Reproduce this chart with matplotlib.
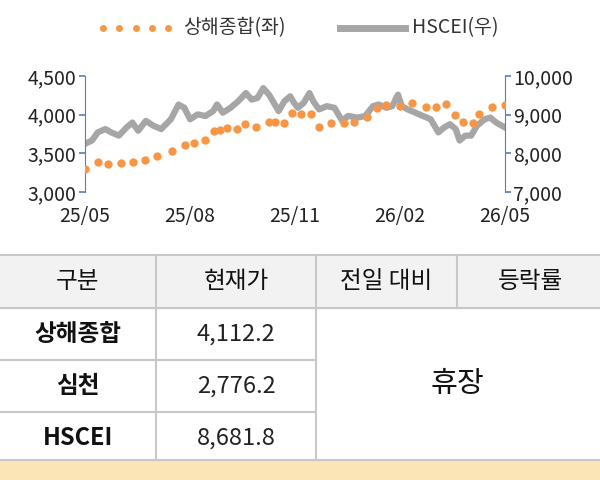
import matplotlib.pyplot as plt
import numpy as np

plt.rcParams['font.family'] = ['Noto Sans CJK KR', 'DejaVu Sans']

# 상해종합 (left axis), x in months since 25/05
sh_x = [0, 0.36, 0.66, 1.04, 1.38, 1.72, 2.07, 2.48, 2.86, 3.11, 3.42, 3.69, 3.85, 4.07, 4.35, 4.56,
        4.88, 5.26, 5.44, 5.68, 5.92, 6.17, 6.47, 6.69, 7.04, 7.40, 7.68, 8.06, 8.34, 8.61, 9.00,
        9.35, 9.73, 10.04, 10.31, 10.56, 10.81, 11.09, 11.25, 11.64, 12.0]
sh_y = [3297, 3390, 3356, 3381, 3390, 3411, 3466, 3530, 3602, 3631, 3674, 3784, 3805, 3822, 3814, 3877,
        3835, 3907, 3911, 3898, 4025, 4004, 4004, 3843, 3890, 3890, 3907, 3975, 4089, 4131, 4110,
        4152, 4101, 4097, 4140, 3996, 3911, 3890, 4004, 4101, 4123]

# HSCEI (right axis)
hs_xz = [222, 240, 255, 275, 290, 310, 330, 345, 360, 380, 400, 420, 445, 465, 480, 495, 515, 535, 555,
         565, 580, 600, 620, 640, 655, 670, 685, 700, 715, 725, 740, 755, 765, 775, 790, 805, 815, 830,
         850, 870, 890, 905, 930, 950, 970, 985, 1005, 1020, 1035, 1045, 1060, 1080, 1100, 1120, 1140,
         1155, 1170, 1185, 1195, 1210, 1225, 1240, 1260, 1275, 1290, 1313]
hs_y = [8246, 8331, 8542, 8627, 8542, 8458, 8670, 8797, 8585, 8839, 8712, 8627, 8881, 9263, 9178, 8881,
        9008, 8966, 9093, 9263, 9051, 9178, 9347, 9559, 9390, 9432, 9686, 9517, 9263, 9093, 9347, 9475,
        9305, 9178, 9305, 9559, 9347, 9136, 9220, 9178, 8839, 8966, 8924, 8966, 9220, 9263, 9178, 9220,
        9517, 9220, 9136, 9051, 8966, 8881, 8542, 8670, 8754, 8627, 8331, 8458, 8458, 8712, 8881, 8924,
        8797, 8670]
hs_x = [(v - 222) / 1091 * 12 for v in hs_xz]

tick_labels = ['25/05', '25/08', '25/11', '26/02', '26/05']
headers = ['구분', '현재가', '전일 대비', '등락률']
names = ['상해종합', '심천', 'HSCEI']
prices = ['4,112.2', '2,776.2', '8,681.8']

W, H = 600, 480
fig = plt.figure(figsize=(6, 4.8), dpi=100)

ax = fig.add_axes([85 / W, 1 - 192 / H, 420 / W, 116 / H])
ax2 = ax.twinx()
ax2.plot(hs_x, hs_y, color='#a6a6a6', lw=4.5, zorder=1)
ax.plot(sh_x, sh_y, 'o', color='#f79646', ms=6, mew=0, zorder=3)
ax.set_zorder(ax2.get_zorder() + 1)
ax.patch.set_visible(False)
ax.set_xlim(0, 12)
ax.set_ylim(3000, 4500)
ax2.set_ylim(7000, 10000)
ax.set_yticks([3000, 3500, 4000, 4500])
ax.set_yticklabels(['3,000', '3,500', '4,000', '4,500'])
ax2.set_yticks([7000, 8000, 9000, 10000])
ax2.set_yticklabels(['7,000', '8,000', '9,000', '10,000'])
ax.set_xticks([0, 3, 6, 9, 12])
ax.set_xticklabels(tick_labels)
for a in (ax, ax2):
    for s in ('top', 'bottom'):
        a.spines[s].set_visible(False)
    a.spines['left'].set_color('#4f81bd')
    a.spines['right'].set_color('#4f81bd')
    a.tick_params(labelsize=14, colors='#222222', length=4, width=1.2)
    a.tick_params(axis='y', color='#4f81bd', pad=2)
ax.spines['right'].set_visible(False)
ax2.spines['left'].set_visible(False)
ax.tick_params(axis='x', length=0, pad=10)
ax.tick_params(axis='y', direction='out')

# legend
ly = 1 - 28 / H
fig.add_artist(plt.Line2D(np.linspace(103, 168, 5) / W, [ly] * 5, ls='none', marker='o',
                          color='#f79646', ms=5, mew=0))
fig.text(183 / W, ly, '상해종합(좌)', fontsize=14, va='center', color='#333333')
fig.add_artist(plt.Line2D([340 / W, 405 / W], [ly] * 2, color='#a6a6a6', lw=5))
fig.text(412 / W, ly, 'HSCEI(우)', fontsize=14, va='center', color='#333333')

# table
tb = fig.add_axes([0, 0, 1, 1])
tb.set_xlim(0, W)
tb.set_ylim(H, 0)
tb.axis('off')
line_c = '#c8c8c8'
tb.add_patch(plt.Rectangle((0, 255), W, 53, color='#f2f2f2', zorder=0))
tb.add_patch(plt.Rectangle((0, 461), W, 19, color='#fbe5b6', zorder=0))
for y in (255, 308, 460):
    tb.plot([0, W], [y, y], color=line_c, lw=1.5)
for y in (360, 412):
    tb.plot([0, 316], [y, y], color=line_c, lw=1.5)
for x in (156, 316):
    tb.plot([x, x], [255, 460], color=line_c, lw=1.5)
tb.plot([457, 457], [255, 308], color=line_c, lw=1.5)
cols = [78, 236, 386, 530]
for cx, h in zip(cols, headers):
    tb.text(cx, 281, h, ha='center', va='center', fontsize=17, color='#111111')
for i, (n, p) in enumerate(zip(names, prices)):
    cy = 334 + i * 52
    tb.text(78, cy, n, ha='center', va='center', fontsize=17, fontweight='bold', color='#111111')
    tb.text(236, cy, p, ha='center', va='center', fontsize=17, color='#222222')
tb.text(457, 384, '휴장', ha='center', va='center', fontsize=21, color='#111111')

fig.savefig('out.png', dpi=100)
